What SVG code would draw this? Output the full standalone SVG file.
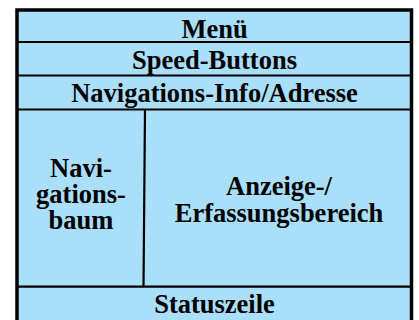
<svg xmlns="http://www.w3.org/2000/svg" width="419" height="320" viewBox="0 0 419 320">
<style>
.t{font-family:"Liberation Serif","Times New Roman",serif;font-weight:bold;font-size:26.5px;fill:#000;text-anchor:middle}
.c{fill:#aadff9;stroke:none}
.l{stroke:#000;stroke-width:2.2;fill:none}
</style>
<rect x="0" y="0" width="419" height="320" fill="#fff"/>
<g id="frame">
<rect class="c" x="17" y="10" width="394.5" height="312"/>
</g>
<g id="connectors">
<line class="l" x1="17" y1="42" x2="411.5" y2="42"/>
<line class="l" x1="17" y1="75.5" x2="411.5" y2="75.5"/>
<line class="l" x1="17" y1="109.5" x2="411.5" y2="109.5"/>
<line class="l" x1="145" y1="109.5" x2="143.5" y2="286.7"/>
<line class="l" x1="17" y1="286.7" x2="411.5" y2="286.7"/>
</g>
<g id="menu"><text class="t" x="214.5" y="37.5">Menü</text></g>
<g id="speed"><text class="t" x="214.5" y="69">Speed-Buttons</text></g>
<g id="navinfo"><text class="t" x="214.5" y="101.5">Navigations-Info/Adresse</text></g>
<g id="navbaum"><text class="t" x="81" y="177">Navi-</text><text class="t" x="81" y="203">gations-</text><text class="t" x="81" y="229">baum</text></g>
<g id="anzeige"><text class="t" x="279" y="195">Anzeige-/</text><text class="t" x="279" y="221.5">Erfassungsbereich</text></g>
<g id="status"><text class="t" x="214.5" y="312.5">Statuszeile</text></g>
<rect x="17" y="10" width="394.5" height="312" fill="none" stroke="#000" stroke-width="3.5"/>
</svg>
